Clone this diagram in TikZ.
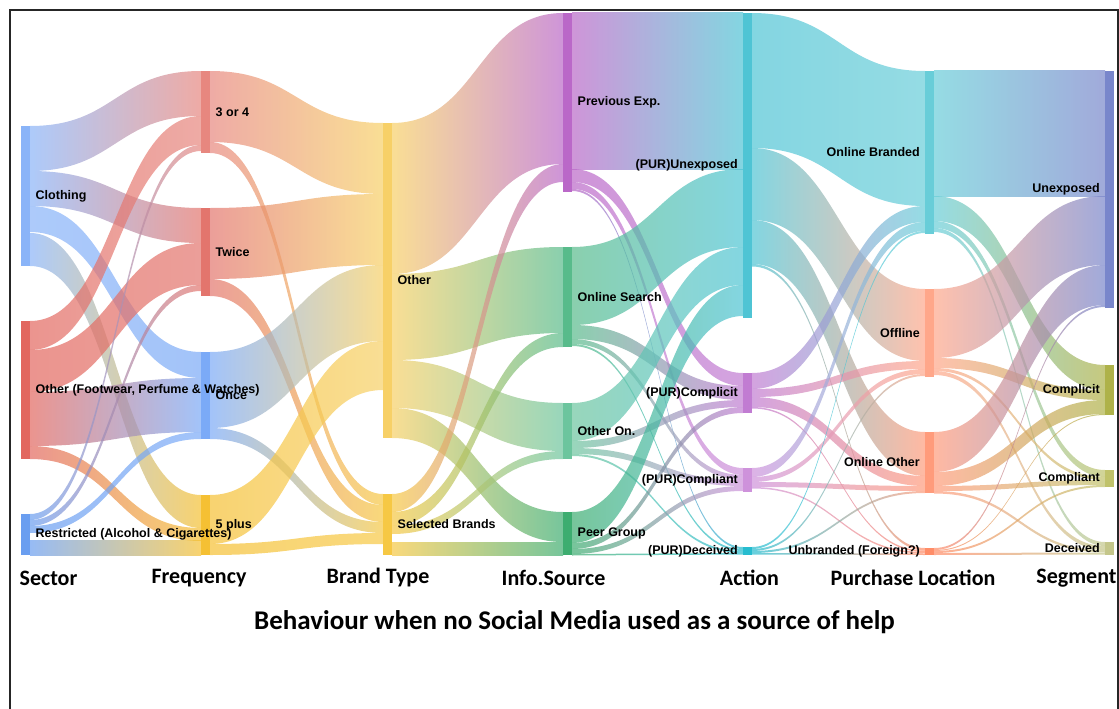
\documentclass[tikz,border=0pt]{standalone}
\usepackage{fontspec}
\setmainfont{Liberation Sans}
\newfontfamily\headfont{Carlito}
\usetikzlibrary{calc,backgrounds}

\tikzset{
  bar/.style={fill=#1, draw=none, inner sep=0pt, outer sep=0pt, minimum width=9pt, anchor=north west},
  link/.style={fill opacity=0.7},
  lbr/.style={anchor=west, xshift=5.5pt, inner sep=0pt, font=\fontsize{12.5}{14}\selectfont\bfseries},
  lbl/.style={anchor=east, xshift=-5pt, inner sep=0pt, font=\fontsize{12.5}{14}\selectfont\bfseries},
  head/.style={inner sep=0pt, font=\headfont\fontsize{22}{26}\selectfont\bfseries},
  ttl/.style={inner sep=0pt, font=\headfont\fontsize{27}{31}\selectfont\bfseries},
  frame/.style={draw=black!85, line width=1.3pt}
}

\newcommand\flow[5]{\shade[link, left color=#1, right color=#3] let \p1=($(#1.north east)+(0,#2)$), \p2=($(#3.north west)+(0,#4)$), \p3=($(\p1)!.5!(\p2)$) in (\p1) .. controls (\x3,\y1) and (\x3,\y2) .. (\p2) -- (\x2,\y2-#5pt) .. controls (\x3,\y2-#5pt) and (\x3,\y1-#5pt) .. (\x1,\y1-#5pt) -- cycle;}

\begin{document}
\begin{tikzpicture}[x=1pt,y=-1pt]
\useasboundingbox (0,0) rectangle (1119,709);
\draw[frame] (10,709) -- (10,10) -- (1118,10) -- (1118,709);
\definecolor{clothing}{HTML}{8AB4F8}
\definecolor{othersec}{HTML}{E2675F}
\definecolor{restricted}{HTML}{6A9EF0}
\definecolor{threefour}{HTML}{E7877F}
\definecolor{twice}{HTML}{E3756D}
\definecolor{once}{HTML}{7BAAF7}
\definecolor{fiveplus}{HTML}{F5C033}
\definecolor{otherbrand}{HTML}{F7D067}
\definecolor{selected}{HTML}{F6C844}
\definecolor{prevexp}{HTML}{BA68C8}
\definecolor{onlinesearch}{HTML}{58BB8B}
\definecolor{otheron}{HTML}{6CC59E}
\definecolor{peergroup}{HTML}{3DAD70}
\definecolor{punexposed}{HTML}{4FC4D4}
\definecolor{pcomplicit}{HTML}{C17CD2}
\definecolor{pcompliant}{HTML}{CE92DB}
\definecolor{pdeceived}{HTML}{27BCCF}
\definecolor{onlinebranded}{HTML}{68CDD8}
\definecolor{offline}{HTML}{FFA78A}
\definecolor{onlineother}{HTML}{FF9B7B}
\definecolor{unbranded}{HTML}{FF8D68}
\definecolor{sunexposed}{HTML}{7986CB}
\definecolor{scomplicit}{HTML}{AEB249}
\definecolor{scompliant}{HTML}{C0C26A}
\definecolor{sdeceived}{HTML}{C4C68A}
\node[bar=clothing, minimum height=140] (clothing) at (21,126) {};
\node[bar=othersec, minimum height=138] (othersec) at (21,321) {};
\node[bar=restricted, minimum height=41] (restricted) at (21,514) {};
\node[bar=threefour, minimum height=82] (threefour) at (201,71) {};
\node[bar=twice, minimum height=88] (twice) at (201,208) {};
\node[bar=once, minimum height=87] (once) at (201,352) {};
\node[bar=fiveplus, minimum height=60] (fiveplus) at (201,495) {};
\node[bar=otherbrand, minimum height=315] (otherbrand) at (383,123) {};
\node[bar=selected, minimum height=61] (selected) at (383,494) {};
\node[bar=prevexp, minimum height=179] (prevexp) at (563,13) {};
\node[bar=onlinesearch, minimum height=100] (onlinesearch) at (563,247) {};
\node[bar=otheron, minimum height=56] (otheron) at (563,403) {};
\node[bar=peergroup, minimum height=43] (peergroup) at (563,512) {};
\node[bar=punexposed, minimum height=305] (punexposed) at (743,13) {};
\node[bar=pcomplicit, minimum height=40] (pcomplicit) at (743,373) {};
\node[bar=pcompliant, minimum height=24] (pcompliant) at (743,468) {};
\node[bar=pdeceived, minimum height=8] (pdeceived) at (743,547) {};
\node[bar=onlinebranded, minimum height=163] (onlinebranded) at (925,71) {};
\node[bar=offline, minimum height=88] (offline) at (925,289) {};
\node[bar=onlineother, minimum height=61] (onlineother) at (925,432) {};
\node[bar=unbranded, minimum height=7] (unbranded) at (925,548) {};
\node[bar=sunexposed, minimum height=237] (sunexposed) at (1105,71) {};
\node[bar=scomplicit, minimum height=50] (scomplicit) at (1105,365) {};
\node[bar=scompliant, minimum height=17] (scompliant) at (1105,470) {};
\node[bar=sdeceived, minimum height=13] (sdeceived) at (1105,542) {};
\begin{pgfonlayer}{background}
\foreach \src/\sy/\dst/\dy/\thick in {clothing/0/threefour/0/45, clothing/45/twice/0/35, clothing/80/once/0/26, clothing/107/fiveplus/0/33, othersec/0/threefour/45/29, othersec/29/twice/35/42, othersec/71/once/26/54, othersec/125/fiveplus/33/13, restricted/0/threefour/74/6, restricted/6/twice/77/6, restricted/12/once/80/7, restricted/26/fiveplus/45/15}
  \flow{\src}{\sy}{\dst}{\dy}{\thick};
\foreach \src/\sy/\dst/\dy/\thick in {threefour/0/otherbrand/0/71, threefour/71/selected/0/11, twice/0/otherbrand/71/71, twice/71/selected/11/17, once/0/otherbrand/142/76, once/76/selected/28/11, fiveplus/0/otherbrand/218/49, fiveplus/49/selected/39/11}
  \flow{\src}{\sy}{\dst}{\dy}{\thick};
\foreach \src/\sy/\dst/\dy/\thick in {otherbrand/0/prevexp/0/151, otherbrand/151/onlinesearch/0/86, otherbrand/237/otheron/0/48, otherbrand/285/peergroup/0/30, selected/0/prevexp/151/18, selected/18/onlinesearch/86/14, selected/32/otheron/48/8, selected/48/peergroup/30/13}
  \flow{\src}{\sy}{\dst}{\dy}{\thick};
\foreach \src/\sy/\dst/\dy/\thick in {prevexp/0/punexposed/0/156, prevexp/156/pcomplicit/0/13, prevexp/169/pcompliant/0/7, prevexp/176/pdeceived/0/2, onlinesearch/0/punexposed/156/78, onlinesearch/78/pcomplicit/13/14, onlinesearch/92/pcompliant/7/5, onlinesearch/97/pdeceived/2/2, otheron/0/punexposed/234/38, otheron/38/pcomplicit/27/7, otheron/45/pcompliant/12/6, otheron/51/pdeceived/4/2, peergroup/0/punexposed/272/31, peergroup/31/pcomplicit/34/6, peergroup/37/pcompliant/18/5, peergroup/42/pdeceived/6/1.5}
  \flow{\src}{\sy}{\dst}{\dy}{\thick};
\foreach \src/\sy/\dst/\dy/\thick in {punexposed/0/onlinebranded/0/135, punexposed/135/offline/0/72, punexposed/207/onlineother/0/44, punexposed/251/unbranded/0/2.5, pcomplicit/0/onlinebranded/135/16, pcomplicit/16/offline/72/8, pcomplicit/24/onlineother/44/10, pcomplicit/34/unbranded/2.5/1.5, pcompliant/0/onlinebranded/151/9, pcompliant/9/offline/80/5, pcompliant/14/onlineother/54/5, pcompliant/19/unbranded/4/1.5, pdeceived/0/onlinebranded/160/2, pdeceived/2/offline/85/2, pdeceived/4/onlineother/59/2, pdeceived/6/unbranded/5.5/1.5}
  \flow{\src}{\sy}{\dst}{\dy}{\thick};
\foreach \src/\sy/\dst/\dy/\thick in {onlinebranded/0/sunexposed/0/125, onlinebranded/125/scomplicit/0/25, onlinebranded/150/scompliant/0/7, onlinebranded/157/sdeceived/0/4, offline/0/sunexposed/125/69, offline/69/scomplicit/25/10, offline/79/scompliant/7/3, offline/82/sdeceived/4/4, onlineother/0/sunexposed/194/40, onlineother/40/scomplicit/35/14, onlineother/54/scompliant/10/5, onlineother/59/sdeceived/8/2.5, unbranded/0/sunexposed/234/2, unbranded/2/scomplicit/49/1, unbranded/3/scompliant/15/2, unbranded/5/sdeceived/10.5/2}
  \flow{\src}{\sy}{\dst}{\dy}{\thick};
\end{pgfonlayer}
\node[lbr] (clothingtx) at (clothing.east) {Clothing};
\node[lbr] (othersectx) at (othersec.east) {Other (Footwear, Perfume \& Watches)};
\node[lbr] (restrictedtx) at (restricted.east) {Restricted (Alcohol \& Cigarettes)};
\node[lbr] (threefourtx) at (threefour.east) {3 or 4};
\node[lbr] (twicetx) at (twice.east) {Twice};
\node[lbr] (oncetx) at (once.east) {Once};
\node[lbr] (fiveplustx) at (fiveplus.east) {5 plus};
\node[lbr] (otherbrandtx) at (otherbrand.east) {Other};
\node[lbr] (selectedtx) at (selected.east) {Selected Brands};
\node[lbr] (prevexptx) at (prevexp.east) {Previous Exp.};
\node[lbr] (onlinesearchtx) at (onlinesearch.east) {Online Search};
\node[lbr] (otherontx) at (otheron.east) {Other On.};
\node[lbr] (peergrouptx) at (peergroup.east) {Peer Group};
\node[lbl] (punexposedtx) at (punexposed.west) {(PUR)Unexposed};
\node[lbl] (pcomplicittx) at (pcomplicit.west) {(PUR)Complicit};
\node[lbl] (pcomplianttx) at (pcompliant.west) {(PUR)Compliant};
\node[lbl] (pdeceivedtx) at (pdeceived.west) {(PUR)Deceived};
\node[lbl] (onlinebrandedtx) at (onlinebranded.west) {Online Branded};
\node[lbl] (offlinetx) at (offline.west) {Offline};
\node[lbl] (onlineothertx) at (onlineother.west) {Online Other};
\node[lbl] (unbrandedtx) at (unbranded.west) {Unbranded (Foreign?)};
\node[lbl] (sunexposedtx) at (sunexposed.west) {Unexposed};
\node[lbl] (scomplicittx) at (scomplicit.west) {Complicit};
\node[lbl] (scomplianttx) at (scompliant.west) {Compliant};
\node[lbl] (sdeceivedtx) at (sdeceived.west) {Deceived};
\node[head] (sectorhd) at (48.5,578) {Sector};
\node[head] (frequencyhd) at (199,578) {Frequency};
\node[head] (brandhd) at (378,578) {Brand Type};
\node[head] (infohd) at (553.5,578) {Info.Source};
\node[head] (actionhd) at (749.5,578) {Action};
\node[head] (locationhd) at (913,578) {Purchase Location};
\node[head] (segmenthd) at (1076.5,578) {Segment};
\node[ttl] (title) at (574.5,622) {Behaviour when no Social Media used as a source of help};
\end{tikzpicture}
\end{document}
